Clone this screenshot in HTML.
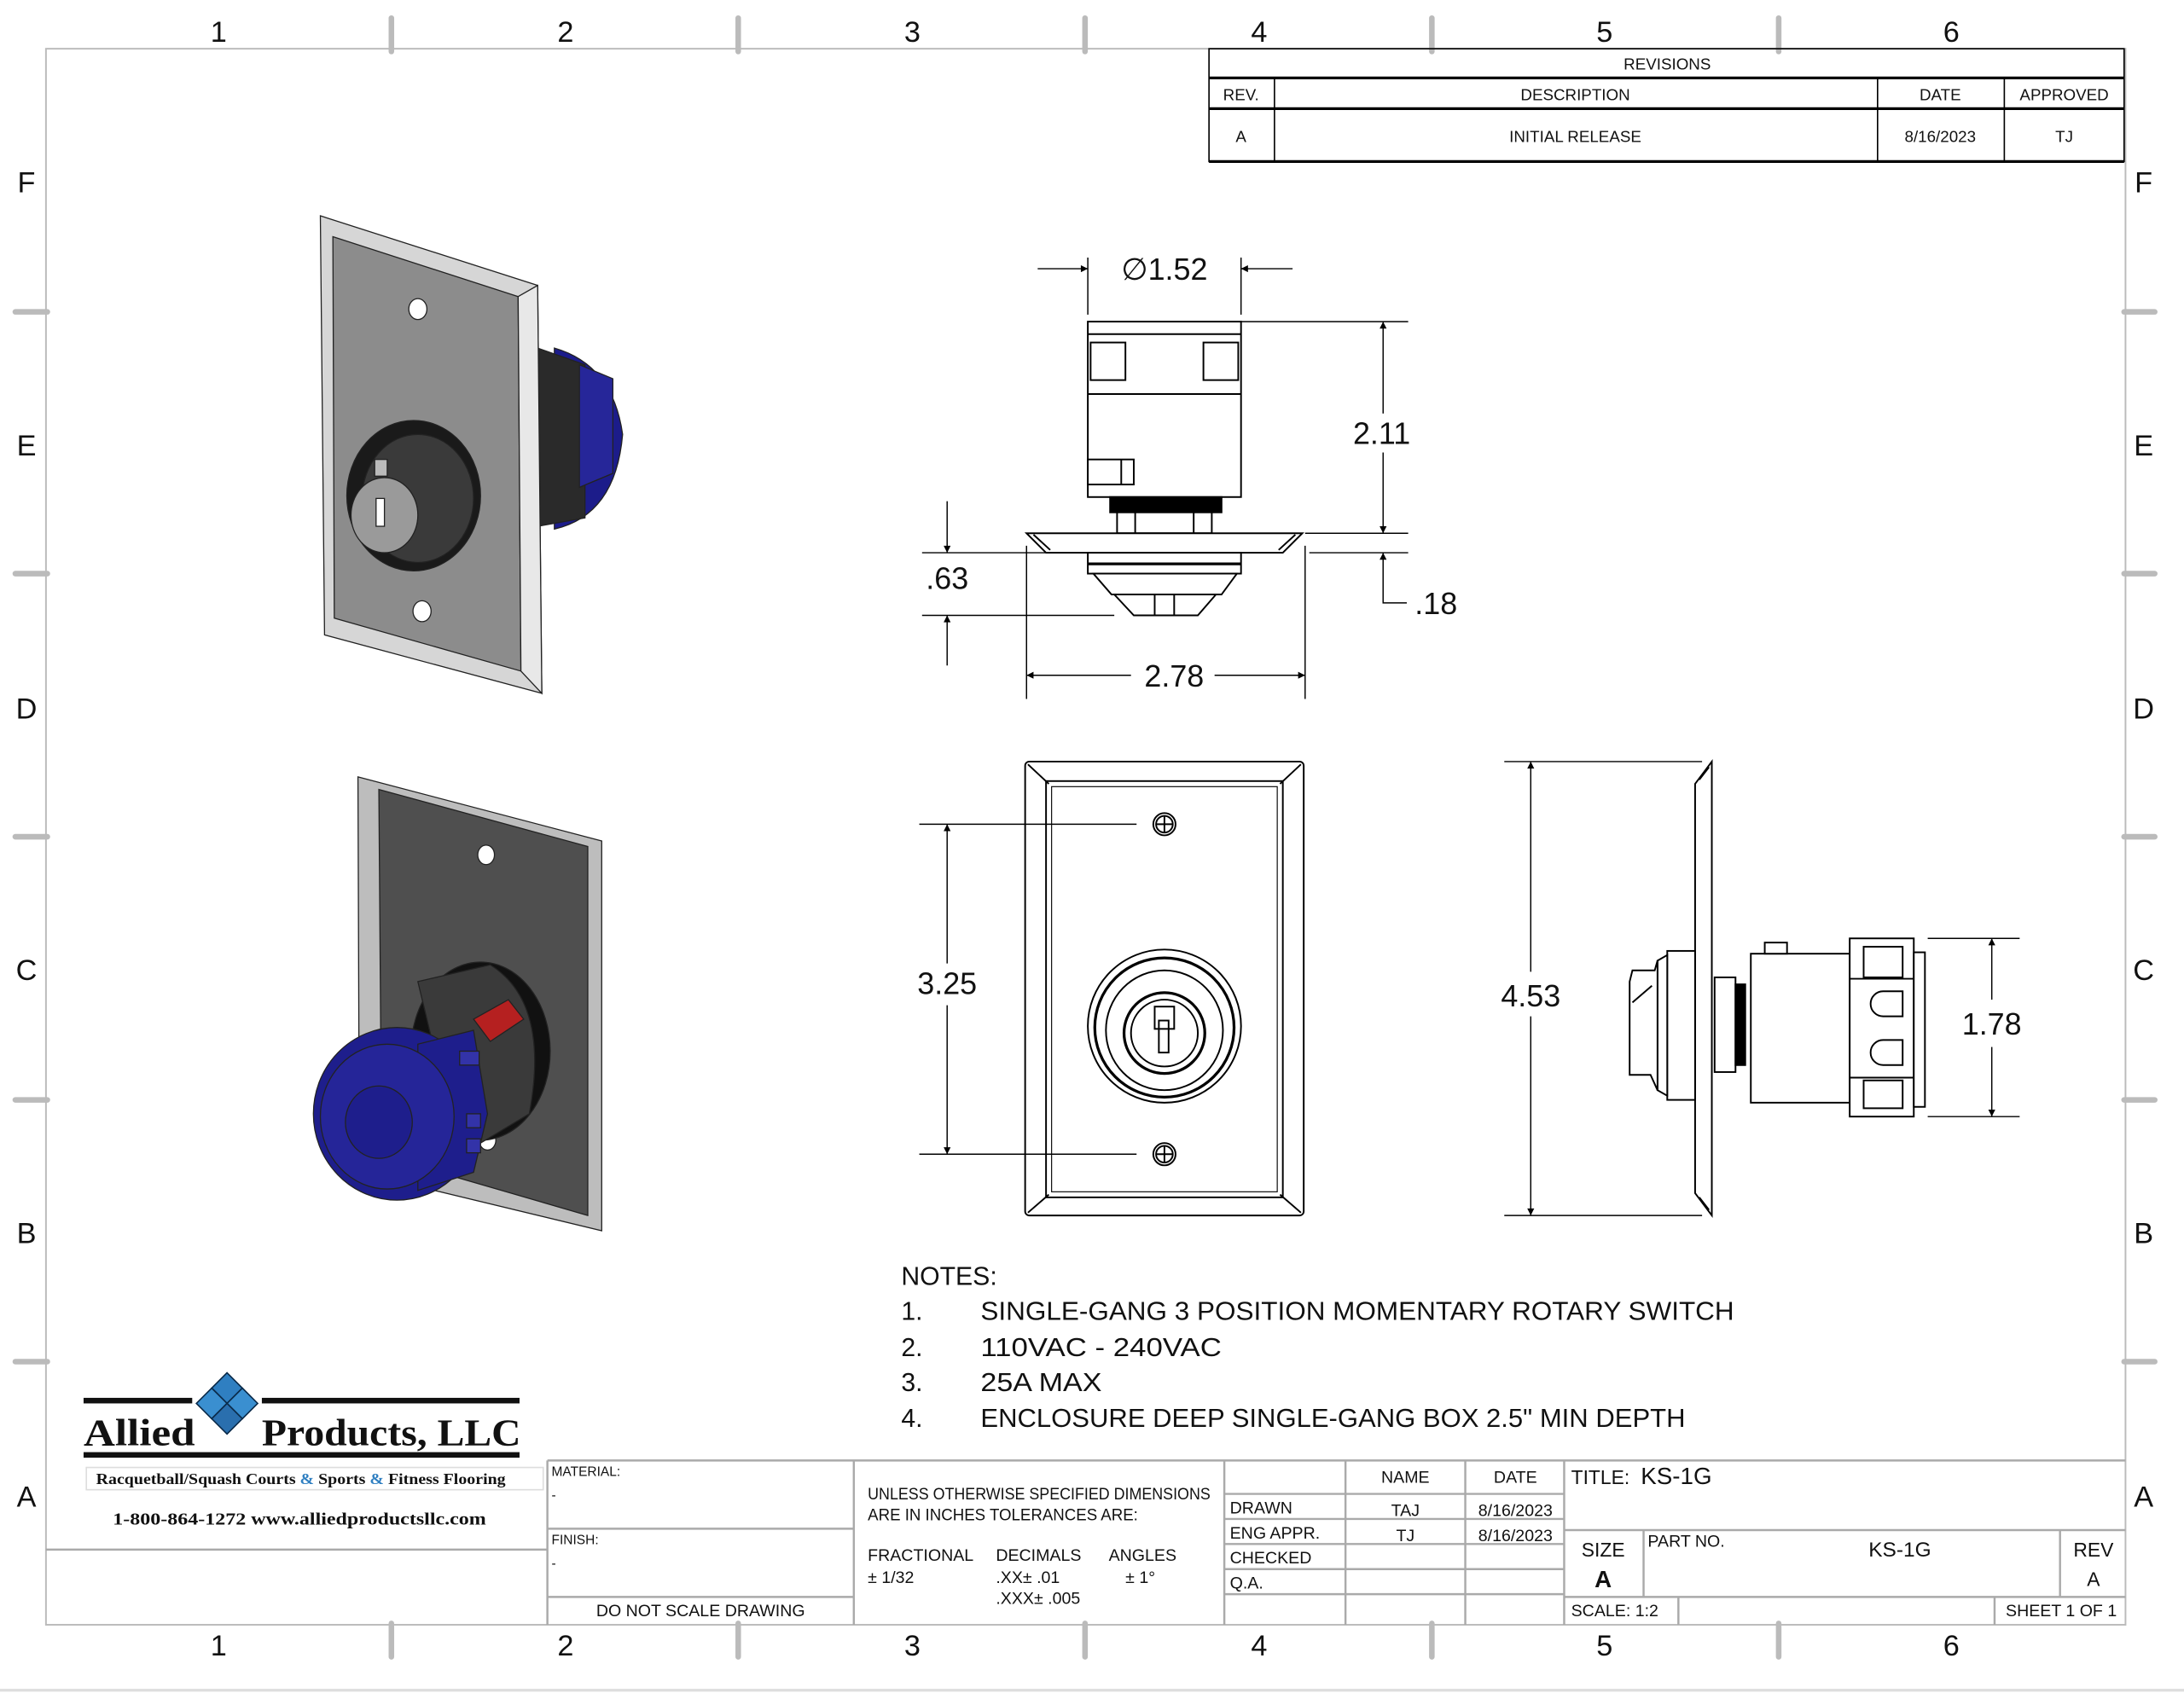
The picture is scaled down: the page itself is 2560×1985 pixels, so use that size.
<!DOCTYPE html>
<html><head><meta charset="utf-8"><style>
html,body{margin:0;padding:0;background:#fff;}
svg{display:block;}
text{font-family:"Liberation Sans",sans-serif;fill:#111;}
</style></head><body>
<svg width="2560" height="1985" viewBox="0 0 1568 1216" preserveAspectRatio="none" xmlns="http://www.w3.org/2000/svg">
<defs>
<marker id="ar" viewBox="0 0 10 10" refX="10" refY="5" markerWidth="12" markerHeight="5" orient="auto-start-reverse" markerUnits="userSpaceOnUse"><path d="M0,0 L10,5 L0,10 z" fill="#000"/></marker>
</defs>
<rect x="0" y="0" width="1568" height="1216" fill="#fff"/>
<rect x="33" y="35" width="1493" height="1132" fill="none" stroke="#bbb" stroke-width="1.2"/>
<g stroke="#bbb" stroke-width="4" stroke-linecap="round">
<line x1="281" y1="13" x2="281" y2="37"/><line x1="530" y1="13" x2="530" y2="37"/><line x1="779" y1="13" x2="779" y2="37"/><line x1="1028" y1="13" x2="1028" y2="37"/><line x1="1277" y1="13" x2="1277" y2="37"/>
<line x1="281" y1="1166" x2="281" y2="1190"/><line x1="530" y1="1166" x2="530" y2="1190"/><line x1="779" y1="1166" x2="779" y2="1190"/><line x1="1028" y1="1166" x2="1028" y2="1190"/><line x1="1277" y1="1166" x2="1277" y2="1190"/>
<line x1="11" y1="224" x2="34" y2="224"/><line x1="11" y1="412" x2="34" y2="412"/><line x1="11" y1="601" x2="34" y2="601"/><line x1="11" y1="790" x2="34" y2="790"/><line x1="11" y1="978" x2="34" y2="978"/>
<line x1="1525" y1="224" x2="1547" y2="224"/><line x1="1525" y1="412" x2="1547" y2="412"/><line x1="1525" y1="601" x2="1547" y2="601"/><line x1="1525" y1="790" x2="1547" y2="790"/><line x1="1525" y1="978" x2="1547" y2="978"/>
</g>
<g font-size="21" text-anchor="middle">
<text x="157" y="30">1</text><text x="406" y="30">2</text><text x="655" y="30">3</text><text x="904" y="30">4</text><text x="1152" y="30">5</text><text x="1401" y="30">6</text>
<text x="157" y="1189">1</text><text x="406" y="1189">2</text><text x="655" y="1189">3</text><text x="904" y="1189">4</text><text x="1152" y="1189">5</text><text x="1401" y="1189">6</text>
<text x="19" y="138">F</text><text x="19" y="327">E</text><text x="19" y="516">D</text><text x="19" y="704">C</text><text x="19" y="893">B</text><text x="19" y="1082">A</text>
<text x="1539" y="138">F</text><text x="1539" y="327">E</text><text x="1539" y="516">D</text><text x="1539" y="704">C</text><text x="1539" y="893">B</text><text x="1539" y="1082">A</text>
</g>
<g stroke="#000" fill="none">
<rect x="868" y="35" width="657" height="81" stroke-width="1"/>
<line x1="868" y1="56" x2="1525" y2="56" stroke-width="2"/>
<line x1="868" y1="78" x2="1525" y2="78" stroke-width="2"/>
<line x1="868" y1="116" x2="1525" y2="116" stroke-width="2"/>
<line x1="915" y1="56" x2="915" y2="116"/><line x1="1348" y1="56" x2="1348" y2="116"/><line x1="1439" y1="56" x2="1439" y2="116"/>
</g>
<g font-size="11.5" text-anchor="middle">
<text x="1197" y="50">REVISIONS</text>
<text x="891" y="72">REV.</text><text x="1131" y="72">DESCRIPTION</text><text x="1393" y="72">DATE</text><text x="1482" y="72">APPROVED</text>
<text x="891" y="102">A</text><text x="1131" y="102">INITIAL RELEASE</text><text x="1393" y="102">8/16/2023</text><text x="1482" y="102">TJ</text>
</g>

<g stroke="#222" stroke-width="0.8">
<path d="M398,250 Q440,262 447,312 Q442,370 398,380 Z" fill="#1c1c8a"/>
<path d="M386,250 L420,262 L420,372 L386,378 Z" fill="#2a2a2a"/>
<path d="M416,262 L440,272 L440,340 L416,350 Z" fill="#262699"/>
<polygon points="230,155 386,205 389,498 233,456" fill="#d6d6d6"/>
<polygon points="239,170 372,213 374,482 240,444" fill="#8c8c8c"/>
<polygon points="372,213 386,205 389,498 374,482" fill="#e8e8e8"/>
<ellipse cx="300" cy="222" rx="6.5" ry="7.5" fill="#fff"/>
<ellipse cx="303" cy="439" rx="6.5" ry="7.5" fill="#fff"/>
<ellipse cx="297" cy="356" rx="48" ry="54" fill="#1a1a1a"/>
<ellipse cx="300" cy="358" rx="40" ry="46" fill="#3a3a3a"/>
<ellipse cx="276" cy="370" rx="24" ry="27" fill="#9a9a9a"/>
<rect x="270" y="358" width="6" height="20" fill="#fff"/>
<rect x="269" y="330" width="9" height="12" fill="#bbb"/>
</g>
<g stroke="#222" stroke-width="0.8">
<polygon points="257,558 432,604 432,884 258,842" fill="#bdbdbd"/>
<polygon points="272,567 422,608 422,873 274,830" fill="#4f4f4f"/>
<ellipse cx="349" cy="614" rx="6" ry="7" fill="#fff"/>
<ellipse cx="350" cy="819" rx="6" ry="7" fill="#fff"/>
<ellipse cx="345" cy="755" rx="50" ry="64" fill="#111"/>
<path d="M300,705 L352,693 Q395,720 380,800 L330,830 Z" fill="#3a3a3a"/>
<polygon points="340,732 365,718 376,732 352,748" fill="#b52020"/>
<ellipse cx="285" cy="800" rx="60" ry="62" fill="#1e1e8c"/>
<path d="M300,750 L340,740 L350,800 L340,842 L300,855 Z" fill="#1e1e8c"/>
<ellipse cx="278" cy="802" rx="48" ry="52" fill="#252598"/>
<ellipse cx="272" cy="806" rx="24" ry="26" fill="#1e1e8c"/>
<rect x="330" y="755" width="14" height="10" fill="#3333a8"/>
<rect x="335" y="800" width="10" height="10" fill="#3333a8"/>
<rect x="335" y="818" width="10" height="10" fill="#3333a8"/>
</g>

<g stroke="#000" stroke-width="1.2" fill="#fff">
<rect x="781" y="231" width="110" height="126"/>
<line x1="781" y1="240" x2="891" y2="240"/><line x1="781" y1="283" x2="891" y2="283"/>
<rect x="783" y="246" width="25" height="27"/><rect x="864" y="246" width="25" height="27"/>
<rect x="781" y="330" width="33" height="18"/><line x1="805" y1="330" x2="805" y2="348"/>
<rect x="797" y="357" width="80" height="11" fill="#000"/>
<rect x="802" y="368" width="68" height="15"/><line x1="815" y1="368" x2="815" y2="383"/><line x1="857" y1="368" x2="857" y2="383"/>
<polygon points="737,383 935,383 921,397 751,397"/>
<line x1="742" y1="384" x2="754" y2="395"/><line x1="930" y1="384" x2="918" y2="395"/>
<rect x="781" y="397" width="110" height="15"/><line x1="781" y1="405" x2="891" y2="405" stroke-width="2"/>
<polygon points="785,412 888,412 877,427 798,427"/>
<polygon points="800,427 873,427 860,442 814,442"/>
<line x1="829" y1="427" x2="829" y2="442"/><line x1="843" y1="427" x2="843" y2="442"/>
</g>
<g stroke="#000" stroke-width="0.9" fill="none">
<line x1="781" y1="185" x2="781" y2="226"/><line x1="891" y1="185" x2="891" y2="226"/>
<line x1="745" y1="193" x2="781" y2="193" marker-end="url(#ar)"/>
<line x1="928" y1="193" x2="891" y2="193" marker-end="url(#ar)"/>
<line x1="891" y1="231" x2="1011" y2="231"/><line x1="937" y1="383" x2="1011" y2="383"/><line x1="940" y1="397" x2="1011" y2="397"/>
<line x1="993" y1="297" x2="993" y2="231" marker-end="url(#ar)"/>
<line x1="993" y1="325" x2="993" y2="383" marker-end="url(#ar)"/>
<polyline points="1010,433 993,433 993,397" marker-end="url(#ar)"/>
<line x1="662" y1="397" x2="752" y2="397"/><line x1="662" y1="442" x2="800" y2="442"/>
<line x1="680" y1="360" x2="680" y2="397" marker-end="url(#ar)"/>
<line x1="680" y1="478" x2="680" y2="442" marker-end="url(#ar)"/>
<line x1="737" y1="392" x2="737" y2="502"/><line x1="937" y1="392" x2="937" y2="502"/>
<line x1="812" y1="485" x2="737" y2="485" marker-end="url(#ar)"/>
<line x1="872" y1="485" x2="937" y2="485" marker-end="url(#ar)"/>
</g>
<g font-size="22" text-anchor="middle">
<text x="836" y="201">∅1.52</text>
<text x="992" y="319">2.11</text>
<text x="1031" y="441">.18</text>
<text x="680" y="423">.63</text>
<text x="843" y="493">2.78</text>
</g>

<g stroke="#000" stroke-width="1.2" fill="none">
<rect x="736" y="547" width="200" height="326" rx="3"/>
<rect x="751" y="561" width="170" height="299"/>
<rect x="755" y="565" width="162" height="291" stroke-width="0.7"/>
<line x1="738" y1="549" x2="753" y2="563"/><line x1="934" y1="549" x2="919" y2="563"/>
<line x1="738" y1="871" x2="753" y2="858"/><line x1="934" y1="871" x2="919" y2="858"/>
<circle cx="836" cy="592" r="8"/><circle cx="836" cy="592" r="6"/><line x1="830" y1="592" x2="842" y2="592"/><line x1="836" y1="586" x2="836" y2="598"/>
<circle cx="836" cy="829" r="8"/><circle cx="836" cy="829" r="6"/><line x1="830" y1="829" x2="842" y2="829"/><line x1="836" y1="823" x2="836" y2="835"/>
<ellipse cx="836" cy="737" rx="55" ry="55"/><ellipse cx="836" cy="738" rx="50" ry="50" stroke-width="2"/>
<ellipse cx="836" cy="740" rx="42" ry="43"/>
<circle cx="836" cy="742" r="29" stroke-width="2"/><circle cx="836" cy="742" r="24"/>
<rect x="829" y="723" width="14" height="16" fill="#fff"/>
<rect x="832" y="733" width="7" height="23"/>
</g>
<g stroke="#000" stroke-width="0.9" fill="none">
<line x1="660" y1="592" x2="816" y2="592"/><line x1="660" y1="829" x2="816" y2="829"/>
<line x1="680" y1="692" x2="680" y2="592" marker-end="url(#ar)"/>
<line x1="680" y1="722" x2="680" y2="829" marker-end="url(#ar)"/>
</g>
<text x="680" y="714" font-size="22" text-anchor="middle">3.25</text>

<g stroke="#000" stroke-width="1.2" fill="#fff">
<polygon points="1217,563 1229,547 1229,873 1217,857"/>
<line x1="1220" y1="560" x2="1227" y2="551"/><line x1="1220" y1="860" x2="1227" y2="869"/>
<rect x="1197" y="683" width="20" height="107"/>
<polygon points="1190,690 1197,686 1197,787 1190,783"/>
<polygon points="1172,697 1188,697 1190,690 1190,783 1185,772 1170,772 1170,705"/>
<line x1="1172" y1="720" x2="1186" y2="708"/>
<rect x="1231" y="702" width="15" height="68"/>
<rect x="1246" y="707" width="7" height="58" fill="#000"/>
<rect x="1257" y="685" width="71" height="107"/>
<rect x="1267" y="677" width="16" height="8"/>
<rect x="1328" y="674" width="46" height="128"/>
<line x1="1328" y1="703" x2="1374" y2="703"/><line x1="1328" y1="774" x2="1374" y2="774"/>
<rect x="1338" y="680" width="28" height="22"/><rect x="1338" y="776" width="28" height="20"/>
<path d="M1366,712 L1352,712 A8,8 0 0 0 1352,730 L1366,730 Z"/>
<path d="M1366,747 L1352,747 A8,8 0 0 0 1352,765 L1366,765 Z"/>
<rect x="1374" y="684" width="8" height="111"/>
</g>
<g stroke="#000" stroke-width="0.9" fill="none">
<line x1="1080" y1="547" x2="1222" y2="547"/><line x1="1080" y1="873" x2="1222" y2="873"/>
<line x1="1099" y1="698" x2="1099" y2="547" marker-end="url(#ar)"/>
<line x1="1099" y1="730" x2="1099" y2="873" marker-end="url(#ar)"/>
<line x1="1384" y1="674" x2="1450" y2="674"/><line x1="1384" y1="802" x2="1450" y2="802"/>
<line x1="1430" y1="718" x2="1430" y2="674" marker-end="url(#ar)"/>
<line x1="1430" y1="752" x2="1430" y2="802" marker-end="url(#ar)"/>
</g>
<g font-size="22" text-anchor="middle">
<text x="1099" y="723">4.53</text>
<text x="1430" y="743">1.78</text>
</g>

<g font-size="18.5">
<text x="647" y="923">NOTES:</text>
<text x="647" y="948">1.</text><text x="704" y="948" textLength="541" lengthAdjust="spacingAndGlyphs">SINGLE-GANG 3 POSITION MOMENTARY ROTARY SWITCH</text>
<text x="647" y="974">2.</text><text x="704" y="974" textLength="173" lengthAdjust="spacingAndGlyphs">110VAC - 240VAC</text>
<text x="647" y="999">3.</text><text x="704" y="999" textLength="87" lengthAdjust="spacingAndGlyphs">25A MAX</text>
<text x="647" y="1025">4.</text><text x="704" y="1025" textLength="506" lengthAdjust="spacingAndGlyphs">ENCLOSURE DEEP SINGLE-GANG BOX 2.5" MIN DEPTH</text>
</g>

<rect x="60" y="1004" width="313" height="4" fill="#111"/>
<rect x="60" y="1043" width="313" height="4" fill="#111"/>
<rect x="138" y="990" width="50" height="30" fill="#fff"/>
<g stroke="#0b2b4a" stroke-width="1">
<polygon points="163,986 174,997 163,1008 152,997" fill="#2f7fc1"/>
<polygon points="152,997 163,1008 152,1019 141,1008" fill="#3a8fd0"/>
<polygon points="174,997 185,1008 174,1019 163,1008" fill="#3a8fd0"/>
<polygon points="163,1008 174,1019 163,1030 152,1019" fill="#2a6fae"/>
</g>
<rect x="60" y="1016" width="82" height="26" fill="#fff"/>
<rect x="184" y="1016" width="190" height="26" fill="#fff"/>
<text x="60" y="1038" font-weight="bold" font-size="27" style="font-family:'Liberation Serif',serif" textLength="80" lengthAdjust="spacingAndGlyphs">Allied</text>
<text x="188" y="1038" font-weight="bold" font-size="27" style="font-family:'Liberation Serif',serif" textLength="186" lengthAdjust="spacingAndGlyphs">Products, LLC</text>
<rect x="62" y="1054" width="328" height="16" fill="#fff" stroke="#ddd"/>
<text x="216" y="1066" font-size="11" font-weight="bold" text-anchor="middle" style="font-family:'Liberation Serif',serif" textLength="294" lengthAdjust="spacingAndGlyphs">Racquetball/Squash Courts <tspan fill="#2f7fc1">&amp;</tspan> Sports <tspan fill="#2f7fc1">&amp;</tspan> Fitness Flooring</text>
<text x="215" y="1095" font-size="12.5" font-weight="bold" text-anchor="middle" style="font-family:'Liberation Serif',serif" textLength="268" lengthAdjust="spacingAndGlyphs">1-800-864-1272 www.alliedproductsllc.com</text>

<g stroke="#aaa" stroke-width="1.5" fill="none">
<line x1="393" y1="1049" x2="1526" y2="1049"/>
<line x1="33" y1="1113" x2="393" y2="1113"/>
<line x1="393" y1="1049" x2="393" y2="1167"/>
<line x1="613" y1="1049" x2="613" y2="1167"/>
<line x1="879" y1="1049" x2="879" y2="1167"/>
<line x1="966" y1="1049" x2="966" y2="1167"/>
<line x1="1052" y1="1049" x2="1052" y2="1167"/>
<line x1="1123" y1="1049" x2="1123" y2="1167"/>
<line x1="393" y1="1098" x2="613" y2="1098"/>
<line x1="393" y1="1147" x2="613" y2="1147"/>
<line x1="879" y1="1073" x2="1123" y2="1073"/>
<line x1="879" y1="1091" x2="1123" y2="1091"/>
<line x1="879" y1="1109" x2="1123" y2="1109"/>
<line x1="879" y1="1127" x2="1123" y2="1127"/>
<line x1="879" y1="1145" x2="1123" y2="1145"/>
<line x1="1123" y1="1099" x2="1526" y2="1099"/>
<line x1="1123" y1="1147" x2="1526" y2="1147"/>
<line x1="1180" y1="1099" x2="1180" y2="1147"/>
<line x1="1479" y1="1099" x2="1479" y2="1147"/>
<line x1="1205" y1="1147" x2="1205" y2="1167"/>
<line x1="1432" y1="1147" x2="1432" y2="1167"/>
</g>
<g font-size="9.5">
<text x="396" y="1060">MATERIAL:</text><text x="396" y="1077">-</text>
<text x="396" y="1109">FINISH:</text><text x="396" y="1126">-</text>
</g>
<g font-size="12">
<text x="503" y="1161" text-anchor="middle">DO NOT SCALE DRAWING</text>
<text x="623" y="1077" textLength="246" lengthAdjust="spacingAndGlyphs">UNLESS OTHERWISE SPECIFIED DIMENSIONS</text>
<text x="623" y="1092" textLength="194" lengthAdjust="spacingAndGlyphs">ARE IN INCHES TOLERANCES ARE:</text>
<text x="623" y="1121">FRACTIONAL</text><text x="715" y="1121">DECIMALS</text><text x="796" y="1121">ANGLES</text>
<text x="623" y="1137">± 1/32</text><text x="715" y="1137">.XX± .01</text><text x="808" y="1137">± 1°</text>
<text x="715" y="1152">.XXX± .005</text>
<text x="1009" y="1065" text-anchor="middle">NAME</text><text x="1088" y="1065" text-anchor="middle">DATE</text>
<text x="883" y="1087">DRAWN</text><text x="1009" y="1089" text-anchor="middle">TAJ</text><text x="1088" y="1089" text-anchor="middle">8/16/2023</text>
<text x="883" y="1105">ENG APPR.</text><text x="1009" y="1107" text-anchor="middle">TJ</text><text x="1088" y="1107" text-anchor="middle">8/16/2023</text>
<text x="883" y="1123">CHECKED</text>
<text x="883" y="1141">Q.A.</text>
<text x="1183" y="1111">PART NO.</text>
<text x="1128" y="1161">SCALE: 1:2</text><text x="1440" y="1161">SHEET 1 OF 1</text>
</g>
<text x="1128" y="1066" font-size="14">TITLE:</text>
<text x="1178" y="1066" font-size="17">KS-1G</text>
<text x="1151" y="1118" font-size="14" text-anchor="middle">SIZE</text>
<text x="1151" y="1140" font-size="17" font-weight="bold" text-anchor="middle">A</text>
<text x="1364" y="1118" font-size="15" text-anchor="middle">KS-1G</text>
<text x="1503" y="1118" font-size="14" text-anchor="middle">REV</text>
<text x="1503" y="1139" font-size="14" text-anchor="middle">A</text>
<line x1="0" y1="1214" x2="1568" y2="1214" stroke="#ddd" stroke-width="2"/>
</svg>
</body></html>
